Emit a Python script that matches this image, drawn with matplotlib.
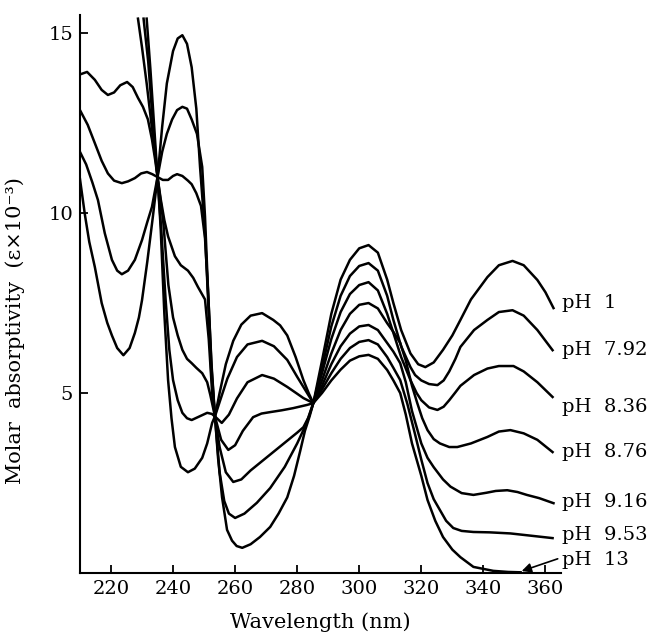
import matplotlib.pyplot as plt

plt.rcParams['font.family'] = ['DejaVu Serif']

# wavelength (nm) / molar absorptivity (x10^-3), one pair per pH
wl_ph1 = [210, 211.6, 213, 214.8, 217, 218.8, 220.3, 222, 224, 226, 227.7, 229, 230, 231.7, 233.5,
          235, 236.5, 238, 240, 241.5, 243, 244.5, 246, 247.5, 248.7, 250.3, 251.3, 252.3, 253.5,
          254.5, 255.8, 257.4, 259, 260.5, 262.3, 265, 268, 271.3, 274, 276.8, 279, 281, 282.5, 284,
          285.2, 288, 291, 294, 297, 300, 303, 306, 309, 311, 313.5, 316.5, 319, 321.3, 324, 327,
          330, 332.6, 336, 341.3, 345, 349.4, 353, 357.4, 360, 362.6]
ab_ph1 = [10.95, 9.95, 9.2, 8.5, 7.5, 6.95, 6.6, 6.25, 6.05, 6.25, 6.67, 7.1, 7.58, 8.65, 9.9,
          11.0, 12.4, 13.6, 14.5, 14.85, 14.94, 14.7, 14.05, 12.9, 11.28, 9.44, 7.58, 5.6, 4.35,
          3.2, 2.1, 1.2, 0.9, 0.75, 0.7, 0.8, 1.0, 1.28, 1.65, 2.1, 2.7, 3.4, 3.95, 4.35,
          4.72, 5.9, 7.2, 8.15, 8.7, 9.02, 9.11, 8.9, 8.15, 7.5, 6.75, 6.1, 5.8, 5.72, 5.85, 6.2,
          6.6, 7.03, 7.6, 8.22, 8.55, 8.67, 8.55, 8.14, 7.8, 7.36]

wl_ph792 = [210, 212, 214, 215.8, 218, 220.3, 222, 223.5, 225.5, 227.7, 230, 231.7, 233.2,
            235, 236.5, 238, 239.7, 241.3, 243, 244.5, 246, 247.7, 249.4, 250.3, 251.3, 252.4, 253.5,
            255, 256.5, 258, 260, 263, 267, 271.3, 276, 280, 282, 283.8,
            285.2, 288, 291, 294, 297, 300, 303, 306, 309, 311, 313.5, 316.5, 318, 320, 322.5, 325.2,
            327.2, 329, 331, 332.6, 337, 341.3, 345, 349.4, 353, 357.4, 362.3]
ab_ph792 = [11.7, 11.35, 10.85, 10.36, 9.44, 8.7, 8.4, 8.3, 8.4, 8.7, 9.25, 9.75, 10.17,
            11.0, 11.7, 12.2, 12.6, 12.86, 12.95, 12.9, 12.6, 12.2, 11.28, 9.9, 7.8, 5.7, 4.35,
            2.8, 2.0, 1.65, 1.53, 1.65, 1.95, 2.36, 2.95, 3.6, 3.97, 4.35,
            4.72, 5.7, 6.85, 7.7, 8.25, 8.53, 8.61, 8.4, 7.7, 7.03, 6.3, 5.72, 5.5, 5.35, 5.25, 5.22,
            5.35, 5.6, 5.95, 6.28, 6.75, 7.03, 7.25, 7.3, 7.15, 6.75, 6.19]

wl_ph836 = [210, 212.5, 214.8, 217, 219, 221, 223.5, 225.5, 227.7, 229.7, 231.6, 233.3,
            235, 236.7, 238.4, 240, 241.3, 243, 244.8, 246, 247.5, 249, 250.3, 251.3, 252.4, 253.5,
            255, 257, 259.4, 262, 265, 270, 275, 280, 282, 283.5,
            285.2, 288, 291, 294, 297, 300, 303, 306, 309, 311, 313.5, 316.5, 318.5, 320, 322.5,
            325.2, 327.2, 329, 331, 332.6, 337, 341.3, 345, 349.7, 353, 357.4, 362.3]
ab_ph836 = [12.86, 12.45, 11.94, 11.45, 11.1, 10.9, 10.83, 10.88, 10.97, 11.1, 11.14, 11.08,
            11.0, 10.92, 10.92, 11.03, 11.08, 11.03, 10.9, 10.8, 10.55, 10.2, 9.3, 7.8, 5.8, 4.35,
            3.5, 2.8, 2.53, 2.6, 2.85, 3.2, 3.55, 3.9, 4.05, 4.3,
            4.72, 5.55, 6.5, 7.25, 7.75, 8.0, 8.08, 7.85, 7.2, 6.67, 6.0, 5.36, 5.0, 4.8, 4.6,
            4.53, 4.62, 4.8, 5.02, 5.2, 5.5, 5.68, 5.75, 5.75, 5.6, 5.3, 4.89]

wl_ph876 = [210, 212.3, 214.8, 217, 219, 221, 223, 225.2, 227, 228.7, 230.3, 231.9, 233.2, 234.2,
            235, 236, 237.2, 238.4, 240.6, 242.5, 244.8, 246.5, 248, 250.3, 251.5, 252.6, 253.5,
            255.5, 257.8, 260, 262.5, 265.8, 268.5, 271.3, 275, 278.7, 283.2,
            285.2, 288, 291, 294, 297, 300, 303, 306, 309, 311, 313.2, 315, 317, 318.7, 320.3, 322,
            324, 326, 329, 331.6, 336, 341.3, 345, 348.7, 353, 357.4, 362.3]
ab_ph876 = [13.85, 13.92, 13.7, 13.42, 13.28, 13.35, 13.55, 13.64, 13.5, 13.2, 12.95, 12.6, 12.05, 11.5,
            11.0, 10.4, 9.8, 9.35, 8.8, 8.55, 8.4, 8.2, 7.95, 7.6, 6.5, 5.0, 4.35,
            3.7, 3.42, 3.55, 3.95, 4.33, 4.43, 4.47, 4.52, 4.58, 4.67,
            4.72, 5.35, 6.1, 6.75, 7.2, 7.45, 7.5, 7.35, 6.94, 6.7, 6.39, 5.9, 5.2, 4.72, 4.3, 3.97,
            3.72, 3.6, 3.5, 3.5, 3.6, 3.78, 3.93, 3.97, 3.88, 3.7, 3.36]

wl_ph916 = [231.5, 232.7, 234,
            235, 236.8, 238.5, 240, 241.5, 243, 244.5, 246, 247.5, 249.4, 251, 252, 253.5,
            255.7, 258, 260.6, 264, 268.7, 272.5, 276.8, 280, 282,
            285.2, 288, 291, 294, 297, 300, 303, 306, 309, 311, 313.2, 315, 317, 320, 322, 324,
            327, 329.4, 333, 336.8, 341, 344, 347.7, 351, 354, 358, 362.6]
ab_ph916 = [15.4, 14.0, 12.3,
            11.0, 9.8, 8.0, 7.1, 6.6, 6.2, 5.95, 5.83, 5.7, 5.55, 5.3, 4.95, 4.35,
            4.17, 4.4, 4.85, 5.3, 5.5, 5.4, 5.17, 4.98, 4.86,
            4.72, 5.2, 5.8, 6.3, 6.65, 6.85, 6.89, 6.75, 6.39, 6.15, 5.83, 5.3, 4.5, 3.6, 3.2, 2.94,
            2.6, 2.4, 2.22, 2.17, 2.23, 2.28, 2.3, 2.25, 2.17, 2.08, 1.94]

wl_ph953 = [230.5, 232, 233.5,
            235, 236.3, 237.6, 238.8, 240, 241.5, 243, 244.5, 246, 248.5, 251, 252.5, 253.5,
            255.2, 257.5, 260.6, 264, 268.7, 272.5, 276.8, 280, 282,
            285.2, 288, 291, 294, 297, 300, 303, 306, 309, 311, 313.2, 315.5, 318, 320, 322, 324,
            326, 328, 330.3, 333, 336.8, 342, 348.7, 355, 362.3]
ab_ph953 = [15.4, 14.2, 12.5,
            11.0, 9.4, 7.6, 6.2, 5.36, 4.8, 4.45, 4.3, 4.25, 4.35, 4.45, 4.42, 4.35,
            4.8, 5.4, 6.0, 6.35, 6.45, 6.3, 5.92, 5.45, 5.17,
            4.72, 5.1, 5.55, 5.95, 6.25, 6.42, 6.47, 6.35, 6.0, 5.7, 5.36, 4.7, 3.85, 3.15, 2.5, 2.05,
            1.75, 1.45, 1.25, 1.17, 1.14, 1.13, 1.1, 1.04, 0.97]

wl_ph13 = [228.7, 230, 231.5, 233, 234.2,
           235, 236, 237.2, 238.4, 239.5, 240.6, 242.5, 244.8, 247, 249.4, 251, 252.6, 253.5,
           255, 257, 259.4, 262, 265, 268.7, 272.3, 274.5, 276.8, 279.5, 282, 283.8,
           285.2, 288, 291, 294, 297, 300, 303, 306, 309, 311, 313.2, 315, 317, 320, 322, 324.5,
           327, 330, 332.6, 336.8, 343.2, 348, 352]
ab_ph13 = [15.4, 14.6, 13.6, 12.5, 11.65,
           11.0, 9.6, 7.2, 5.36, 4.3, 3.5, 2.95, 2.8, 2.9, 3.2, 3.6, 4.17, 4.35,
           5.0, 5.8, 6.45, 6.9, 7.15, 7.22, 7.03, 6.88, 6.6, 6.0, 5.36, 4.98,
           4.72, 5.0, 5.35, 5.65, 5.9, 6.02, 6.06, 5.95, 5.64, 5.35, 5.0, 4.4, 3.6, 2.7, 2.03, 1.45,
           1.0, 0.65, 0.44, 0.17, 0.06, 0.03, 0.02]

labels = ['pH  1', 'pH  7.92', 'pH  8.36', 'pH  8.76', 'pH  9.16', 'pH  9.53', 'pH  13']
wavelengths = [wl_ph1, wl_ph792, wl_ph836, wl_ph876, wl_ph916, wl_ph953, wl_ph13]
absorb = [ab_ph1, ab_ph792, ab_ph836, ab_ph876, ab_ph916, ab_ph953, ab_ph13]

# where the curve names sit at the right edge
label_y = [7.5, 6.2, 4.6, 3.36, 1.97, 1.05, 0.36]

fig = plt.figure(figsize=(6.5, 6.35), dpi=100)
ax = fig.add_axes([0.123, 0.0976, 0.74, 0.8787])

for x, y in zip(wavelengths, absorb):
    ax.plot(x, y, color='black', lw=1.8, solid_joinstyle='round')

for lab, ly in zip(labels, label_y):
    ax.text(365.4, ly, lab, fontsize=14, va='center', ha='left', clip_on=False)

ax.annotate('', xy=(351.5, 0.03), xytext=(364.8, 0.42), annotation_clip=False,
            arrowprops=dict(arrowstyle='-|>', color='black', lw=1.2, mutation_scale=14))

ax.set_xlim(210, 365)
ax.set_ylim(0, 15.5)
ax.set_xticks(range(220, 361, 20))
ax.set_yticks([5, 10, 15])
ax.tick_params(direction='in', length=6, width=1.3, labelsize=14, pad=5)
for s in ['top', 'right']:
    ax.spines[s].set_visible(False)
for s in ['left', 'bottom']:
    ax.spines[s].set_linewidth(1.5)

ax.set_xlabel('Wavelength (nm)', fontsize=15)
ax.xaxis.set_label_coords(0.5, -0.07)
ax.set_ylabel('Molar  absorptivity  (ε×10⁻³)', fontsize=15)
ax.yaxis.set_label_coords(-0.114, 0.435)

plt.savefig('out.png', dpi=100)
